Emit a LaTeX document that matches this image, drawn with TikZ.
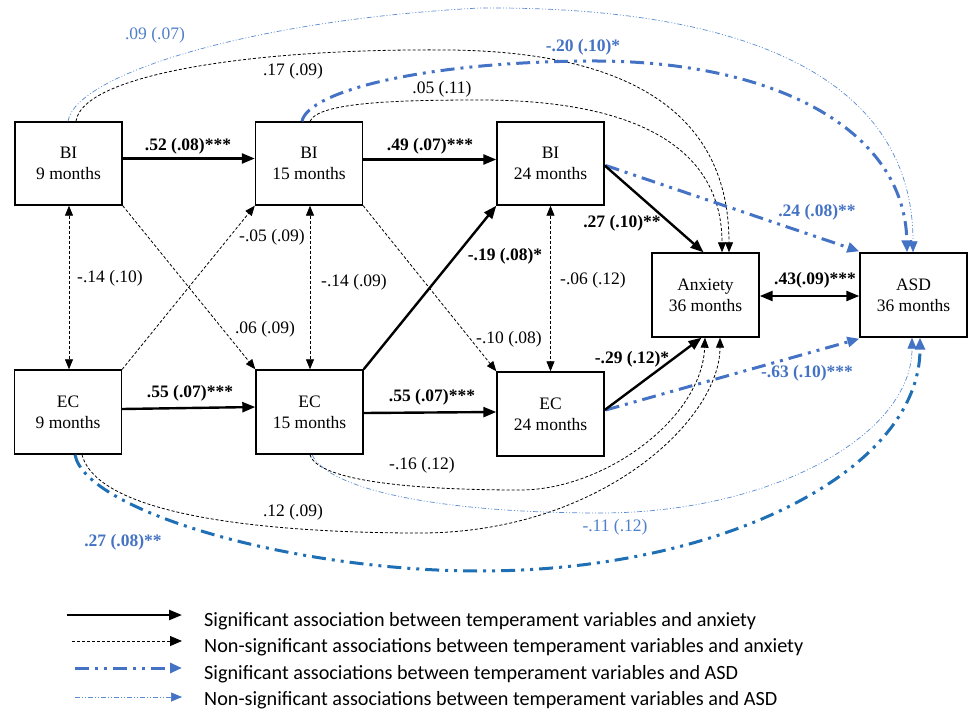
\documentclass[tikz,border=0pt]{standalone}
\usepackage{fontspec}
\setmainfont{Liberation Serif}
\newfontfamily\legfont{Carlito}
\usetikzlibrary{arrows.meta,calc}
\definecolor{sigblue}{HTML}{4472C4}
\definecolor{deepblue}{HTML}{1F6FB5}
\definecolor{thinblue}{HTML}{5B8BD0}
\definecolor{lblblue}{HTML}{4F7FC8}
\begin{document}
\begin{tikzpicture}[x=1pt,y=-1pt,
 box/.style={draw,line width=1.4pt,minimum width=107pt,minimum height=83pt,inner sep=0pt,align=center,font=\fontsize{17.5}{21}\selectfont},
 lbl/.style={font=\fontsize{17.5}{21}\selectfont,inner sep=0pt},
 blbl/.style={font=\fontsize{17.5}{21}\selectfont\bfseries,inner sep=0pt},
 leg/.style={font=\legfont\fontsize{20.2}{24}\selectfont,anchor=base west,inner sep=0pt},
 sig/.style={line width=2.4pt,-{Triangle[length=13pt,width=10pt]}},
 sigboth/.style={line width=2.4pt,{Triangle[length=13pt,width=10pt]}-{Triangle[length=13pt,width=10pt]}},
 ns/.style={line width=0.8pt,dash pattern=on 3pt off 2pt,-{Triangle[length=10pt,width=8pt]}},
 nsleg/.style={line width=0.8pt,dash pattern=on 3pt off 2pt,-{Triangle[length=12pt,width=10pt]}},
 nsboth/.style={line width=0.8pt,dash pattern=on 3pt off 2pt,{Triangle[length=10pt,width=8pt]}-{Triangle[length=10pt,width=8pt]}},
 sigA/.style={draw=sigblue,line width=3pt,dash pattern=on 14pt off 6pt on 3pt off 6pt on 3pt off 6pt,-{Triangle[length=12pt,width=10pt,color=sigblue,fill=sigblue]}},
 sigAdeep/.style={draw=deepblue,line width=3pt,dash pattern=on 14pt off 6pt on 3pt off 6pt on 3pt off 6pt,-{Triangle[length=12pt,width=10pt,color=sigblue,fill=sigblue]}},
 nsA/.style={draw=thinblue,line width=0.7pt,dash pattern=on 5pt off 2pt on 1pt off 2pt on 1pt off 2pt,-{Triangle[length=11pt,width=9pt,color=sigblue,fill=sigblue]}}
]
\useasboundingbox (0,0) rectangle (968,709);

% boxes
\node[box] (BI9) at (68.5,163.5) {BI\\9 months};
\node[box] (BI15) at (309,163.5) {BI\\15 months};
\node[box] (BI24) at (550.5,163.5) {BI\\24 months};
\node[box,minimum height=84pt] (EC9) at (68,412) {EC\\9 months};
\node[box,minimum height=84pt] (EC15) at (309.5,412) {EC\\15 months};
\node[box,minimum height=84pt] (EC24) at (550.5,414) {EC\\24 months};
\node[box,minimum height=84pt] (Anx) at (705.5,295) {Anxiety\\36 months};
\node[box,minimum height=84pt] (ASD) at (913.5,295) {ASD\\36 months};

% top curves
\draw[nsA] ($(BI9.north)+(-0.5,0)$) .. controls (75,75) and (250,20) .. (480,8) .. controls (750,6) and (913,80) .. ($(ASD.north)+(-0.5,0)$);
\draw[ns] ($(BI9.north)+(7.5,0)$) .. controls (82,75) and (250,48) .. (450,50) .. controls (625,52) and (729,110) .. ($(Anx.north)+(23.5,0)$);
\draw[sigA] ($(BI15.north)+(-7,0)$) .. controls (308,92) and (420,62) .. (590,61) .. controls (775,60) and (905,130) .. ($(ASD.north)+(-6.5,0)$);
\draw[ns] ($(BI15.north)+(1,0)$) .. controls (318,102) and (400,100) .. (480,100) .. controls (640,100) and (722,150) .. ($(Anx.north)+(16.5,0)$);

% bottom curves
\draw[sigAdeep] ($(EC9.south)+(7,0)$) .. controls (85,510) and (290,571) .. (480,571) .. controls (723,571) and (920,470) .. ($(ASD.south)+(6.5,0)$);
\draw[ns] ($(EC9.south)+(14,0)$) .. controls (100,522) and (300,533) .. (420,533) .. controls (600,533) and (720,420) .. ($(Anx.south)+(14.5,0)$);
\draw[ns] ($(EC15.south)+(0.5,0)$) .. controls (318,482) and (420,490) .. (520,490) .. controls (605,490) and (702,418) .. ($(Anx.south)+(-0.5,0)$);
\draw[nsA] ($(EC15.south)+(2.5,0)$) .. controls (330,492) and (450,513) .. (600,513) .. controls (772,513) and (912,435) .. ($(ASD.south)+(-1.5,0)$);

% horizontal paths
\draw[sig] ($(BI9.east)+(0,-5)$) -- ($(BI15.west)+(0,-5)$);
\draw[sig] ($(BI15.east)+(0,-4)$) -- ($(BI24.west)+(0,-4)$);
\draw[sig] ($(EC9.east)+(0,-3)$) -- ($(EC15.west)+(0,-5)$);
\draw[sig] ($(EC15.east)+(0,1)$) -- ($(EC24.west)+(0,-2)$);

% vertical correlations
\draw[nsboth] ($(BI9.south)+(0.5,0)$) -- ($(EC9.north)+(1,0)$);
\draw[nsboth] ($(BI15.south)+(1,0)$) -- ($(EC15.north)+(0.5,0)$);
\draw[nsboth] (BI24.south) -- (EC24.north);

% diagonals
\draw[ns] (BI9.south east) -- (EC15.north west);
\draw[ns] (EC9.north east) -- (BI15.south west);
\draw[ns] (BI15.south east) -- (EC24.north west);
\draw[sig] (EC15.north east) -- (BI24.south west);

% to outcomes
\draw[sigA] ($(BI24.east)+(1,2)$) -- ($(ASD.north west)+(0,-1)$);
\draw[sigA] ($(EC24.east)+(1,-4)$) -- ($(ASD.south west)+(0,1)$);
\draw[sig] ($(BI24.east)+(0,2)$) -- ($(Anx.north)+(-2,0)$);
\draw[sig] ($(EC24.east)+(0,-4)$) -- ($(Anx.south)+(-4,0)$);
\draw[sigboth] ($(Anx.east)+(0,1)$) -- ($(ASD.west)+(0,1)$);

% labels
\node[lbl,text=lblblue] (l1) at (155,35) {.09 (.07)};
\node[lbl] (l2) at (293,71) {.17 (.09)};
\node[lbl] (l3) at (442,89) {.05 (.11)};
\node[blbl,text=sigblue] (l4) at (583,47) {-.20 (.10)*};
\node[blbl] (l5) at (188,146) {.52 (.08)***};
\node[blbl] (l6) at (430,146) {.49 (.07)***};
\node[lbl] (l7) at (110,278) {-.14 (.10)};
\node[lbl] (l8) at (272,237) {-.05 (.09)};
\node[lbl] (l9) at (354,282) {-.14 (.09)};
\node[lbl] (l10) at (265,329) {.06 (.09)};
\node[blbl] (l11) at (190,393) {.55 (.07)***};
\node[blbl] (l12) at (432,397) {.55 (.07)***};
\node[blbl] (l13) at (505,256) {-.19 (.08)*};
\node[lbl] (l14) at (509,339) {-.10 (.08)};
\node[lbl] (l15) at (593,280) {-.06 (.12)};
\node[blbl] (l16) at (622,223) {.27 (.10)**};
\node[blbl,text=sigblue] (l17) at (817,212) {.24 (.08)**};
\node[blbl] (l18) at (815,280) {.43(.09)***};
\node[blbl] (l19) at (632,359) {-.29 (.12)*};
\node[blbl,text=sigblue] (l20) at (807,373) {-.63 (.10)***};
\node[lbl] (l21) at (293,512) {.12 (.09)};
\node[lbl] (l22) at (422,465) {-.16 (.12)};
\node[blbl,text=sigblue] (l23) at (123,542) {.27 (.08)**};
\node[lbl,text=lblblue] (l24) at (615,527) {-.11 (.12)};

% legend
\coordinate (g1a) at (67,615); \coordinate (g1b) at (182,615);
\coordinate (g2a) at (72,641); \coordinate (g2b) at (182,641);
\coordinate (g3a) at (75,668); \coordinate (g3b) at (182,668);
\coordinate (g4a) at (75,697); \coordinate (g4b) at (182,697);
\draw[sig] (g1a) -- (g1b);
\draw[nsleg] (g2a) -- (g2b);
\draw[sigA] (g3a) -- (g3b);
\draw[nsA] (g4a) -- (g4b);
\node[leg] (t1) at (204,626) {Significant association between temperament variables and anxiety};
\node[leg] (t2) at (204,652) {Non-significant associations between temperament variables and anxiety};
\node[leg] (t3) at (204,679) {Significant associations between temperament variables and ASD};
\node[leg] (t4) at (204,705) {Non-significant associations between temperament variables and ASD};
\end{tikzpicture}
\end{document}
